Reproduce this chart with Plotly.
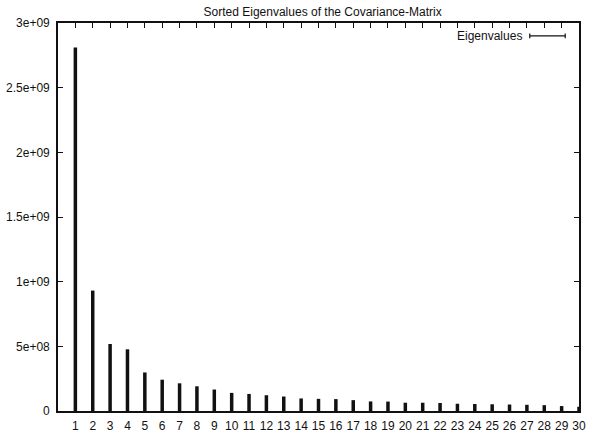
import plotly.graph_objects as go

# Data
indices = list(range(1, 31))
eigenvalues = [2.81e9, 9.31e8, 5.18e8, 4.77e8, 2.98e8, 2.42e8, 2.14e8, 1.91e8, 1.66e8, 1.40e8,
               1.32e8, 1.22e8, 1.12e8, 9.7e7, 9.4e7, 9.2e7, 8.4e7, 7.4e7, 7.3e7, 6.4e7,
               6.4e7, 6.2e7, 5.6e7, 5.4e7, 5.2e7, 5.0e7, 4.8e7, 4.5e7, 3.8e7, 3.2e7]
y_tickvals = [0, 5e8, 1e9, 1.5e9, 2e9, 2.5e9, 3e9]
y_ticktext = ["0", "5e+08", "1e+09", "1.5e+09", "2e+09", "2.5e+09", "3e+09"]
title_text = "Sorted Eigenvalues of the Covariance-Matrix"
legend_text = "Eigenvalues"

# build impulse segments
xs, ys = [], []
for i, v in zip(indices, eigenvalues):
    xs += [i, i, None]
    ys += [0, v, None]

fig = go.Figure()
fig.add_trace(go.Scatter(x=xs, y=ys, mode="lines",
                         line=dict(color="#111111", width=3.5),
                         showlegend=False, hoverinfo="skip"))

font = dict(family="Liberation Sans, Arial, sans-serif", size=12, color="#111111")

fig.update_layout(
    width=592, height=439,
    margin=dict(l=57, r=6, t=23, b=24),
    paper_bgcolor="white", plot_bgcolor="white",
    font=font,
    title=dict(text=title_text, x=0.545, xanchor="center", y=1 - 12 / 439,
               yanchor="middle", font=font),
    showlegend=False,
)
fig.update_xaxes(range=[0, 30], tickvals=indices, ticktext=[str(i) for i in indices],
                 ticks="inside", ticklen=5, tickwidth=1.2, tickcolor="#111111",
                 showline=True, linecolor="#111111", linewidth=1.6, mirror="ticks",
                 showgrid=False, zeroline=False, tickfont=font, ticklabelstandoff=3)
fig.update_yaxes(range=[0, 3e9], tickvals=y_tickvals, ticktext=y_ticktext,
                 ticks="inside", ticklen=5, tickwidth=1.2, tickcolor="#111111",
                 showline=True, linecolor="#111111", linewidth=1.6, mirror="ticks",
                 showgrid=False, zeroline=False, tickfont=font, ticklabelstandoff=4)

# legend drawn manually
fig.add_annotation(text=legend_text, xref="paper", yref="paper",
                   x=(530 - 57) / 529, y=1 - (36.5 - 23) / 392,
                   xanchor="right", yanchor="middle", showarrow=False, font=font)
ly = 1 - (36 - 23) / 392
x0 = (536 - 57) / 529
x1 = (572 - 57) / 529
cap = 2.5 / 392
line = dict(color="#111111", width=1.2)
fig.add_shape(type="line", xref="paper", yref="paper", x0=x0, x1=x1, y0=ly, y1=ly, line=line)
fig.add_shape(type="line", xref="paper", yref="paper", x0=x0, x1=x0, y0=ly - cap, y1=ly + cap, line=line)
fig.add_shape(type="line", xref="paper", yref="paper", x0=x1, x1=x1, y0=ly - cap, y1=ly + cap, line=line)

fig.write_html("out.html")
